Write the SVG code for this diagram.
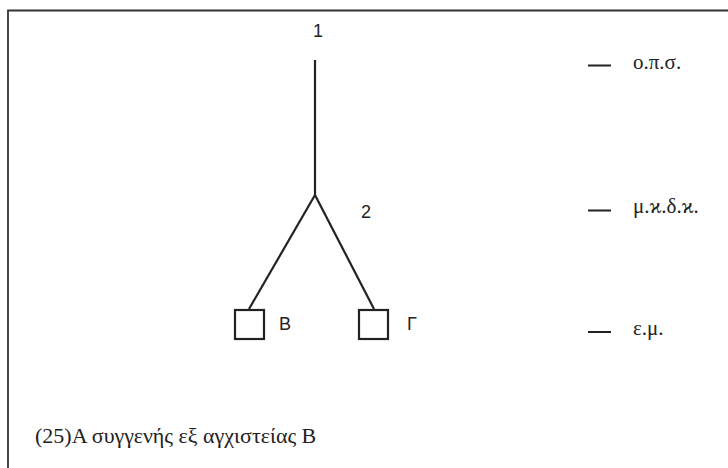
<svg xmlns="http://www.w3.org/2000/svg" width="728" height="468" viewBox="0 0 728 468">
<style>
.ln{stroke:#222;stroke-width:2.2;fill:none;stroke-linecap:butt}
.sq{stroke:#222;stroke-width:2.2;fill:#fff}
.sans{font-family:"Liberation Sans",Arial,sans-serif;font-size:18px;fill:#222}
.serif{font-family:"Liberation Serif","Times New Roman",serif;font-size:21px;fill:#222}
.cap{font-size:22px}
.frame{stroke:#333;stroke-width:1.8;fill:none}
</style>
<rect width="728" height="468" fill="#fff"/>
<g id="frame"><path class="frame" d="M8,468 V10.5 H728"/></g>
<g id="connectors">
<path class="ln" d="M315,60 V195"/>
<path class="ln" d="M315,195 L249,309"/>
<path class="ln" d="M315,195 L374,309"/>
</g>
<g id="node1"><text class="sans" x="318" y="37" text-anchor="middle">1</text></g>
<g id="node2"><text class="sans" x="366" y="218" text-anchor="middle">2</text></g>
<g id="nodeB"><rect class="sq" x="235" y="310" width="29" height="29"/><text class="sans" x="279" y="330">B</text></g>
<g id="nodeG"><rect class="sq" x="359" y="310" width="29" height="29"/><text class="sans" x="407" y="330">Γ</text></g>
<g id="legend">
<path class="ln" d="M588,65.5 H611 M588,210.5 H611 M588,332 H611"/>
<text class="serif" x="633" y="69">ο.π.σ.</text>
<text class="serif" x="633" y="213">μ.ϰ.δ.ϰ.</text>
<text class="serif" x="633" y="335">ε.μ.</text>
</g>
<g id="caption"><text class="serif cap" x="35" y="443">(25)Α συγγενής εξ αγχιστείας Β</text></g>
</svg>
